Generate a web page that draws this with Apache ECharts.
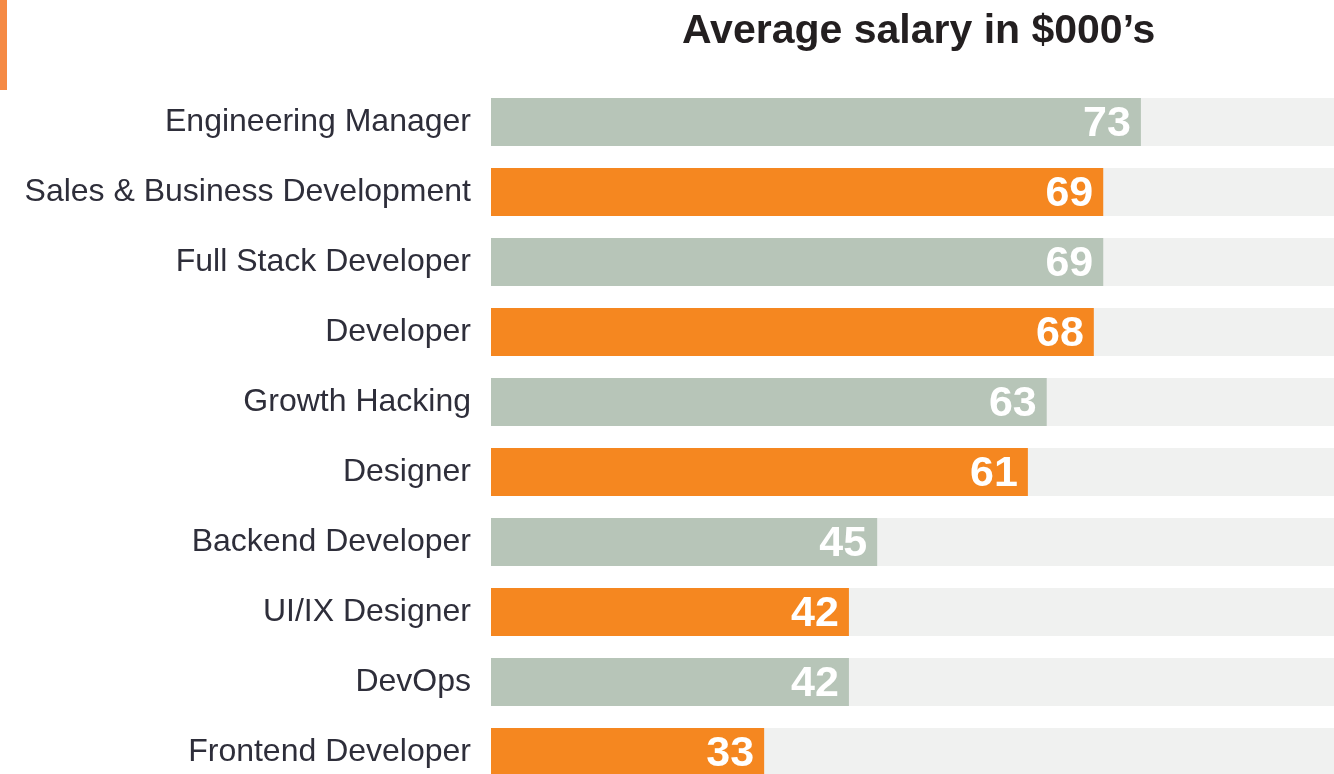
<!DOCTYPE html>
<html>
<head>
<meta charset="utf-8">
<script src="https://cdn.jsdelivr.net/npm/echarts@6/dist/echarts.min.js"></script>
<style>
  html, body { margin: 0; padding: 0; background: #fff; }
  #chart { width: 1334px; height: 774px; }
</style>
</head>
<body>
<div id="chart"></div>
<script>
// Roles, top to bottom
const roles = [
  'Engineering Manager',
  'Sales & Business Development',
  'Full Stack Developer',
  'Developer',
  'Growth Hacking',
  'Designer',
  'Backend Developer',
  'UI/IX Designer',
  'DevOps',
  'Frontend Developer'
];

// Average salary, $000's
const salaries = [73, 69, 69, 68, 63, 61, 45, 42, 42, 33];

const GREY = '#b7c5b8';
const ORANGE = '#f58720';

const chart = echarts.init(document.getElementById('chart'));

chart.setOption({
  backgroundColor: '#ffffff',
  animation: false,
  title: {
    text: 'Average salary in $000\u2019s',
    left: 677,
    top: 6,
    textStyle: {
      fontFamily: 'Liberation Sans',
      fontWeight: 'bold',
      fontSize: 41,
      color: '#231f20'
    }
  },
  graphic: [{
    type: 'rect',
    shape: { x: 0, y: 0, width: 7, height: 90 },
    style: { fill: '#f58a45' }
  }],
  // last row is cut by the bottom edge in the source, so the grid runs past it
  grid: { left: 491, right: 0, top: 87, height: 700, outerBoundsMode: 'none', containLabel: false },
  xAxis: {
    type: 'value',
    // the source chart's bars don't start at exactly zero
    min: 4,
    max: 93.5,
    show: false
  },
  yAxis: {
    type: 'category',
    data: roles,
    inverse: true,
    axisLine: { show: false },
    axisTick: { show: false },
    axisLabel: {
      margin: 20,
      fontFamily: 'Liberation Sans',
      fontSize: 32,
      color: '#2e2e3a'
    }
  },
  series: [{
    type: 'bar',
    barWidth: 48,
    showBackground: true,
    backgroundStyle: { color: '#f0f1f0' },
    data: salaries.map((v, i) => ({
      value: v,
      itemStyle: { color: i % 2 === 0 ? GREY : ORANGE }
    })),
    label: {
      show: true,
      position: 'insideRight',
      distance: 10,
      offset: [0, 2],
      fontFamily: 'Liberation Sans',
      fontWeight: 'bold',
      fontSize: 43,
      color: '#ffffff'
    }
  }]
});

window.addEventListener('resize', () => chart.resize());
</script>
</body>
</html>
